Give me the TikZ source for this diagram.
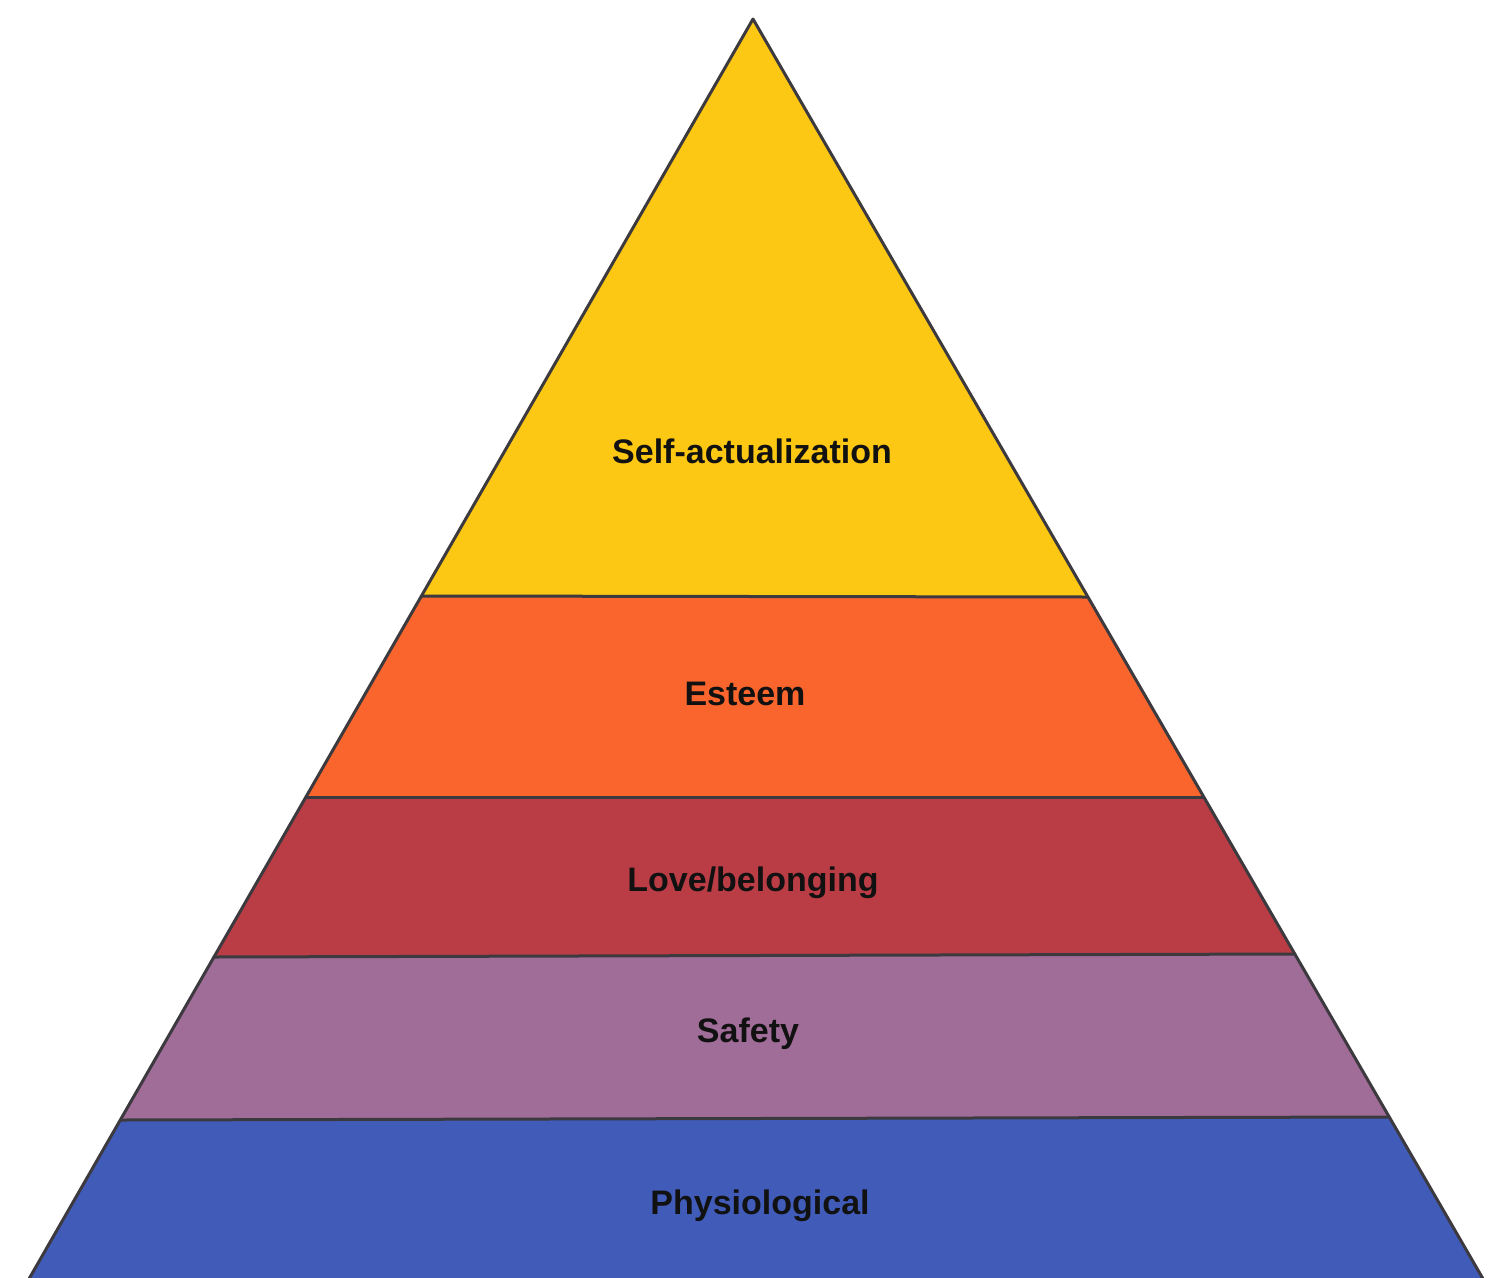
\documentclass[tikz,border=0pt]{standalone}
\usepackage{fontspec}
\setmainfont{Liberation Sans}
\definecolor{selfcol}{HTML}{FCC813}
\definecolor{esteemcol}{HTML}{F9652D}
\definecolor{lovecol}{HTML}{BA3D45}
\definecolor{safetycol}{HTML}{A06C98}
\definecolor{physcol}{HTML}{415BB9}
\definecolor{edgecol}{HTML}{3D3A3F}
\definecolor{labelcol}{HTML}{111111}
\begin{document}
\begin{tikzpicture}[x=1pt,y=-1pt,
  band/.style={fill=#1, draw=none},
  edge/.style={draw=edgecol, line width=3pt, line join=round, line cap=round},
  tier/.style={anchor=base, text=labelcol, inner sep=0pt,
    font=\fontsize{34}{40}\selectfont\bfseries}]
\useasboundingbox (0,0) rectangle (1507,1277);
\clip (0,0) rectangle (1507,1277);
\fill[white] (0,0) rectangle (1507,1277);

% corner points of the tiers
\coordinate (apex) at (753,19);
\coordinate (l1) at (421.4,596);  \coordinate (r1) at (1087.9,597);
\coordinate (l2) at (305.9,797);  \coordinate (r2) at (1203.9,797);
\coordinate (l3) at (213.9,957);  \coordinate (r3) at (1294.8,954);
\coordinate (l4) at (120.3,1120); \coordinate (r4) at (1389.3,1117);
\coordinate (l5) at (22.6,1290);  \coordinate (r5) at (1489.5,1290);

% tier fills
\path[band=selfcol]   (apex) -- (r1) -- (l1) -- cycle;
\path[band=esteemcol] (l1) -- (r1) -- (r2) -- (l2) -- cycle;
\path[band=lovecol]   (l2) -- (r2) -- (r3) -- (l3) -- cycle;
\path[band=safetycol] (l3) -- (r3) -- (r4) -- (l4) -- cycle;
\path[band=physcol]   (l4) -- (r4) -- (r5) -- (l5) -- cycle;

% outline and dividers
\draw[edge] (l5) -- (apex) -- (r5);
\draw[edge] (l1) -- (r1);
\draw[edge] (l2) -- (r2);
\draw[edge] (l3) -- (r3);
\draw[edge] (l4) -- (r4);

% tier labels
\node[tier] (self)   at (752,463)  {Self-actualization};
\node[tier] (esteem) at (745,705)  {Esteem};
\node[tier] (love)   at (753,891)  {Love/belonging};
\node[tier] (safety) at (748,1042) {Safety};
\node[tier] (phys)   at (760,1214) {Physiological};
\end{tikzpicture}
\end{document}
